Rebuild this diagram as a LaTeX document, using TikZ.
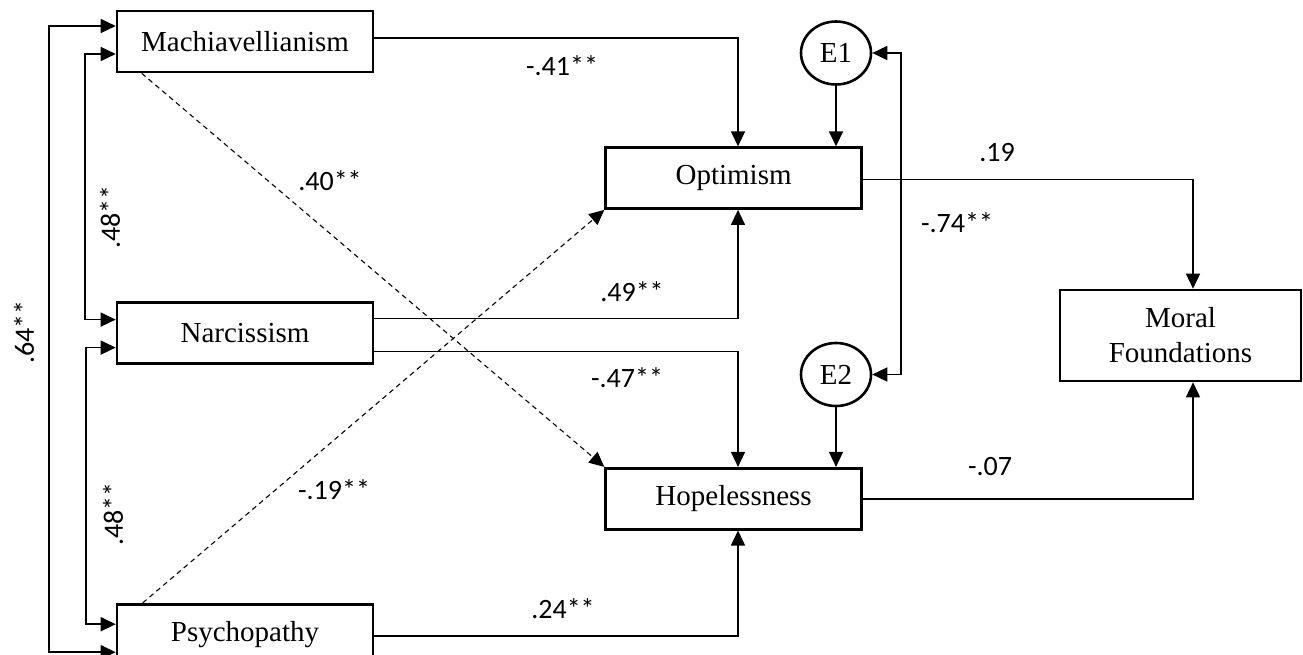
\documentclass[tikz,border=0pt]{standalone}
\usepackage{fontspec}
\setmainfont{Liberation Serif}
\newfontfamily\coeffont{Carlito}
\usepackage{tikz}
\usetikzlibrary{arrows.meta, positioning, shapes.geometric}

\begin{document}
\begin{tikzpicture}[
	x=1pt, y=-1pt,
	var/.style={rectangle, draw, line width=2.6pt, minimum width=256pt, minimum height=61pt, font=\fontsize{29}{35}\selectfont},
	err/.style={ellipse, draw, line width=2.6pt, minimum width=70pt, minimum height=63pt, inner sep=0pt, font=\fontsize{29}{35}\selectfont},
	coef/.style={font=\coeffont\fontsize{28}{32}\selectfont, inner sep=0pt},
	arrow/.style={-{Triangle[length=15pt, width=14pt]}, line width=1.6pt},
	dblarrow/.style={{Triangle[length=15pt, width=14pt]}-{Triangle[length=15pt, width=14pt]}, line width=1.6pt},
	dasharrow/.style={arrow, line width=1.1pt, dash pattern=on 5pt off 4pt}
	]
	\useasboundingbox (0,0) rectangle (1303,655);
	
	% predictors
	\node[var] (mach) at (245,41.5) {Machiavellianism};
	\node[var, below=228pt of mach] (narc) {Narcissism};
	\node[var, below=238pt of narc] (psych) {Psychopathy};
	
	% mediators
	\node[var, below right=73pt and 230pt of mach] (opt) {Optimism};
	\node[var, below=257pt of opt] (hope) {Hopelessness};
	
	% error terms
	\node[err] (e1) at (836,53) {E1};
	\node[err] (e2) at (836,374.5) {E2};
	
	% outcome
	\node[var, minimum width=241pt, minimum height=91pt, align=center] (moral) at (1180.5,335.5) {Moral\\Foundations};
	
	% columns of the bends
	\coordinate (midcol) at (738,0);
	\coordinate (ecol) at (901,0);
	\coordinate (rcol) at (1193,0);
	
	% correlations
	\draw[dblarrow] ([yshift=15.5pt]mach.west) -- ++(-67,0) |- ([yshift=-17.5pt]psych.west);
	\draw[dblarrow] ([yshift=-12.5pt]mach.west) -- ++(-31,0) |- ([yshift=13.5pt]narc.west);
	\draw[dblarrow] ([yshift=-14.5pt]narc.west) -- ++(-30,0) |- ([yshift=10.5pt]psych.west);
	\draw[dblarrow] (e1.east) -- (ecol |- e1.east) -- (ecol |- e2.east) -- (e2.east);
	
	% paths
	\draw[arrow] ([yshift=3.5pt]mach.east) -| (midcol |- opt.north);
	\draw[arrow] ([yshift=14.5pt]narc.east) -| (midcol |- opt.south);
	\draw[arrow] ([yshift=-18.5pt]narc.east) -| (midcol |- hope.north);
	\draw[arrow] ([yshift=-1.5pt]psych.east) -| (midcol |- hope.south);
	\draw[dasharrow] ([xshift=26pt]mach.south west) -- (hope.north west);
	\draw[dasharrow] ([xshift=27pt]psych.north west) -- (opt.south west);
	\draw[arrow] (e1) -- (e1 |- opt.north);
	\draw[arrow] (e2) -- (e2 |- hope.north);
	\draw[arrow] ([yshift=-1.5pt]opt.east) -| (rcol |- moral.north);
	\draw[arrow] (hope.east) -| (rcol |- moral.south);
	
	% coefficients
	\node[coef, rotate=90] (r1) at (24,332) {.64**};
	\node[coef, rotate=90] (r2) at (110,217) {.48**};
	\node[coef, rotate=90] (r3) at (113,514) {.48**};
	\node[coef] (r4) at (957,223) {-.74**};
	\node[coef] (b1) at (562,66) {-.41**};
	\node[coef] (b2) at (330,181) {.40**};
	\node[coef] (b3) at (632,292) {.49**};
	\node[coef] (b4) at (627,378) {-.47**};
	\node[coef] (b5) at (334,490) {-.19**};
	\node[coef] (b6) at (563,609) {.24**};
	\node[coef] (b7) at (997,153) {.19};
	\node[coef] (b8) at (990,467) {-.07};
	
\end{tikzpicture}
\end{document}
